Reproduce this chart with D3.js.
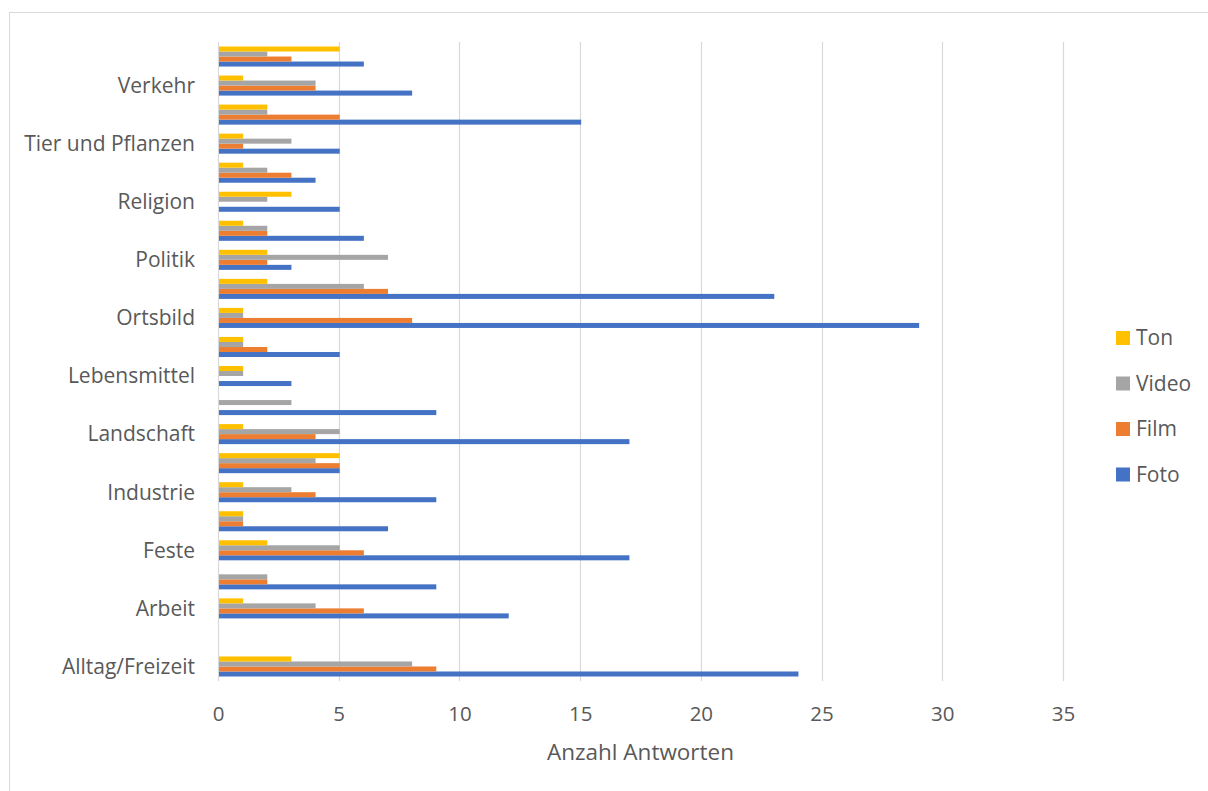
<!DOCTYPE html>
<html>
<head>
<meta charset="utf-8">
<script src="https://cdn.jsdelivr.net/npm/d3@7"></script>
<style>
  html, body { margin: 0; padding: 0; background: #fff; }
  svg { display: block; }
  text { font-family: "Open Sans", "Noto Sans", sans-serif; fill: #595959; }
</style>
</head>
<body>
<svg id="chart" width="1208" height="791"></svg>
<script>
// Categories from bottom to top; every other label is hidden in the original (null = not shown / not readable)
const categories = ["Alltag/Freizeit", null, "Arbeit", null, "Feste", null, "Industrie", null,
  "Landschaft", null, "Lebensmittel", null, "Ortsbild", null, "Politik", null, "Religion", null,
  "Tier und Pflanzen", null, "Verkehr", null];

const seriesNames = ["Foto", "Film", "Video", "Ton"];
const foto  = [24, 0, 12, 9, 17, 7, 9, 5, 17, 9, 3, 5, 29, 23, 3, 6, 5, 4, 5, 15, 8, 6];
const film  = [ 9, 0,  6, 2,  6, 1, 4, 5,  4, 0, 0, 2,  8,  7, 2, 2, 0, 3, 1,  5, 4, 3];
const video = [ 8, 0,  4, 2,  5, 1, 3, 4,  5, 3, 1, 1,  1,  6, 7, 2, 2, 2, 3,  2, 4, 2];
const ton   = [ 3, 0,  1, 0,  2, 1, 1, 5,  1, 0, 1, 1,  1,  2, 2, 1, 3, 1, 1,  2, 1, 5];
const xTicks = [0, 5, 10, 15, 20, 25, 30, 35];

const seriesValues = { Foto: foto, Film: film, Video: video, Ton: ton };
const colors = { Foto: "#4472C4", Film: "#ED7D31", Video: "#A5A5A5", Ton: "#FFC000" };

const svg = d3.select("#chart");

// chart border
svg.append("rect").attr("x", 9.5).attr("y", 12.5).attr("width", 1300).attr("height", 900)
  .attr("fill", "#fff").attr("stroke", "#D9D9D9").attr("stroke-width", 1);

const plot = { left: 218, right: 1063, top: 42, bottom: 681 };

const x = d3.scaleLinear().domain([0, 35]).range([plot.left, plot.right]);
const idx = d3.range(categories.length);
const gap = 0.31;
const y = d3.scaleBand().domain(idx).range([plot.bottom, plot.top])
  .paddingInner(gap).paddingOuter(gap / 2);
const stackOrder = ["Ton", "Video", "Film", "Foto"]; // top to bottom within a group
const ySub = d3.scaleBand().domain(stackOrder).range([0, y.bandwidth()]);

// gridlines
svg.append("g").selectAll("line").data(xTicks).join("line")
  .attr("x1", d => Math.round(x(d)) + 0.5).attr("x2", d => Math.round(x(d)) + 0.5)
  .attr("y1", plot.top).attr("y2", plot.bottom)
  .attr("stroke", "#D9D9D9").attr("stroke-width", 1.2);

// bars
const groups = svg.append("g").selectAll("g").data(idx).join("g")
  .attr("transform", i => `translate(0,${y(i)})`);
groups.selectAll("rect")
  .data(i => seriesNames.map(s => ({ s, v: seriesValues[s][i] })))
  .join("rect")
  .attr("x", x(0) + 1)
  .attr("y", d => ySub(d.s))
  .attr("width", d => Math.max(0, x(d.v) - x(0)))
  .attr("height", ySub.bandwidth())
  .attr("fill", d => colors[d.s])
  .attr("display", d => d.v > 0 ? null : "none");

// x axis
const xAxis = d3.axisBottom(x).tickValues(xTicks).tickSize(0).tickPadding(0);
const gx = svg.append("g").attr("transform", `translate(0,${plot.bottom})`).call(xAxis);
gx.select(".domain").remove();
gx.selectAll("text").attr("dy", null).attr("y", 40)
  .style("font-size", "20.5px").style("fill", "#595959")
  .style("font-family", '"Open Sans", sans-serif');

// y axis
const yAxis = d3.axisLeft(y).tickValues(idx.filter(i => categories[i]))
  .tickFormat(i => categories[i]).tickSize(0).tickPadding(0);
const gy = svg.append("g").attr("transform", `translate(195,0)`).call(yAxis);
gy.select(".domain").remove();
gy.selectAll("text").attr("dy", "0.35em").attr("x", 0)
  .style("font-size", "21px").style("fill", "#595959")
  .style("font-family", '"Open Sans", sans-serif');

// axis title
svg.append("text").attr("x", (plot.left + plot.right) / 2).attr("y", 760)
  .attr("text-anchor", "middle").style("font-size", "22.5px").text("Anzahl Antworten");

// legend
const legendOrder = ["Ton", "Video", "Film", "Foto"];
const lg = svg.append("g").selectAll("g").data(legendOrder).join("g")
  .attr("transform", (d, i) => `translate(1116,${338 + i * 45.5})`);
lg.append("rect").attr("x", 0).attr("y", -7).attr("width", 14).attr("height", 14)
  .attr("fill", d => colors[d]);
lg.append("text").attr("x", 20).attr("y", 0).attr("dy", "0.35em")
  .style("font-size", "21px").text(d => d);
</script>
</body>
</html>
